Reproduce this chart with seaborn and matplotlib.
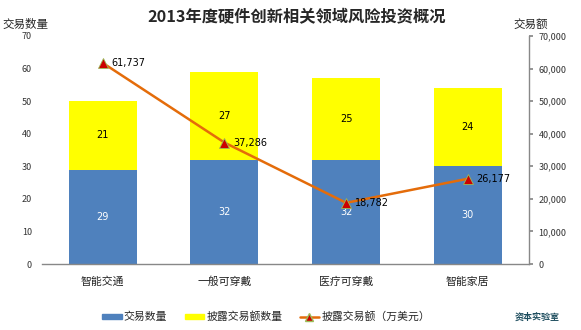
import matplotlib
matplotlib.use("Agg")
import matplotlib.pyplot as plt
import seaborn as sns
import numpy as np
import pandas as pd
from matplotlib.lines import Line2D
from matplotlib.patches import Patch

categories = ["智能交通", "一般可穿戴", "医疗可穿戴", "智能家居"]
deal_count = [29, 32, 32, 30]
disclosed_count = [21, 27, 25, 24]
disclosed_amount = [61737, 37286, 18782, 26177]

sns.set_theme(style="white")
plt.rcParams['font.family'] = ['Noto Sans CJK SC', 'DejaVu Sans']

blue = "#4F81BD"
yellow = "#FFFF00"
orange = "#E46C0A"

fig = plt.figure(figsize=(5.81, 3.30), dpi=100)
ax = fig.add_axes([0.072, 0.2, 0.838, 0.691])

df = pd.DataFrame({"cat": categories,
                   "blue": deal_count,
                   "yellow": disclosed_count})
df["total"] = df["blue"] + df["yellow"]

sns.barplot(data=df, x="cat", y="total", color=yellow, saturation=1,
            width=0.56, ax=ax, linewidth=0)
sns.barplot(data=df, x="cat", y="blue", color=blue, saturation=1,
            width=0.56, ax=ax, linewidth=0)

for i, (b, y) in enumerate(zip(deal_count, disclosed_count)):
    ax.text(i, b / 2, str(b), ha="center", va="center", fontsize=7,
            color="white", family="DejaVu Sans")
    ax.text(i, b + y / 2, str(y), ha="center", va="center", fontsize=7,
            color="black", family="DejaVu Sans")

ax.set_ylim(0, 70)
ax.set_yticks(np.arange(0, 71, 10))
ax.set_xlim(-0.5, 3.5)
ax.set_xlabel("")
ax.set_ylabel("")
ax.tick_params(axis="y", labelsize=6.5, colors="#333333", length=0, pad=7)
ax.tick_params(axis="x", labelsize=7.8, colors="#222222", length=0, pad=9)
for s in ["top", "right", "left"]:
    ax.spines[s].set_visible(False)
ax.spines["bottom"].set_color("#888888")
ax.spines["bottom"].set_linewidth(1)

ax2 = ax.twinx()
sns.lineplot(x=np.arange(len(categories)), y=disclosed_amount, ax=ax2,
             color=orange, linewidth=1.8, marker="^", markersize=7,
             markerfacecolor="#CC0000", markeredgecolor="#9BBB59",
             markeredgewidth=0.6)
for i, v in enumerate(disclosed_amount):
    ax2.text(i + 0.07, v, f"{v:,}", ha="left", va="center", fontsize=7,
             color="black", family="DejaVu Sans")
ax2.set_ylim(0, 70000)
ax2.set_yticks(np.arange(0, 70001, 10000))
ax2.set_yticklabels([f"{v:,}" for v in range(0, 70001, 10000)])
ax2.tick_params(axis="y", labelsize=6.5, colors="#333333", length=3,
                direction="out", pad=4)
ax2.tick_params(axis="y", color="#888888")
for s in ["top", "left", "bottom"]:
    ax2.spines[s].set_visible(False)
ax2.spines["right"].set_color("#888888")
ax2.spines["right"].set_linewidth(1)
ax2.set_xlim(-0.5, 3.5)

fig.text(0.51, 0.952, "2013年度硬件创新相关领域风险投资概况", ha="center",
         va="center", fontsize=11.7, fontweight="bold")
fig.text(0.004, 0.925, "交易数量", ha="left", va="center", fontsize=8.3)
fig.text(0.883, 0.925, "交易额", ha="left", va="center", fontsize=8.3)

handles = [Patch(color=blue), Patch(color=yellow),
           Line2D([0], [0], color=orange, lw=1.8, marker="^", markersize=6,
                  markerfacecolor="#CC0000", markeredgecolor="#9BBB59")]
labels = ["交易数量", "披露交易额数量", "披露交易额（万美元）"]
fig.legend(handles, labels, loc="center", bbox_to_anchor=(0.458, 0.04),
           ncol=3, frameon=False, fontsize=7.8, handlelength=1.8,
           handleheight=0.35, columnspacing=1.6, handletextpad=0.2)

fig.text(0.925, 0.04, "资本实验室", ha="center", va="center", fontsize=6.5,
         color="#1F4E5F", fontweight="bold")

fig.savefig("out.png", dpi=100)
